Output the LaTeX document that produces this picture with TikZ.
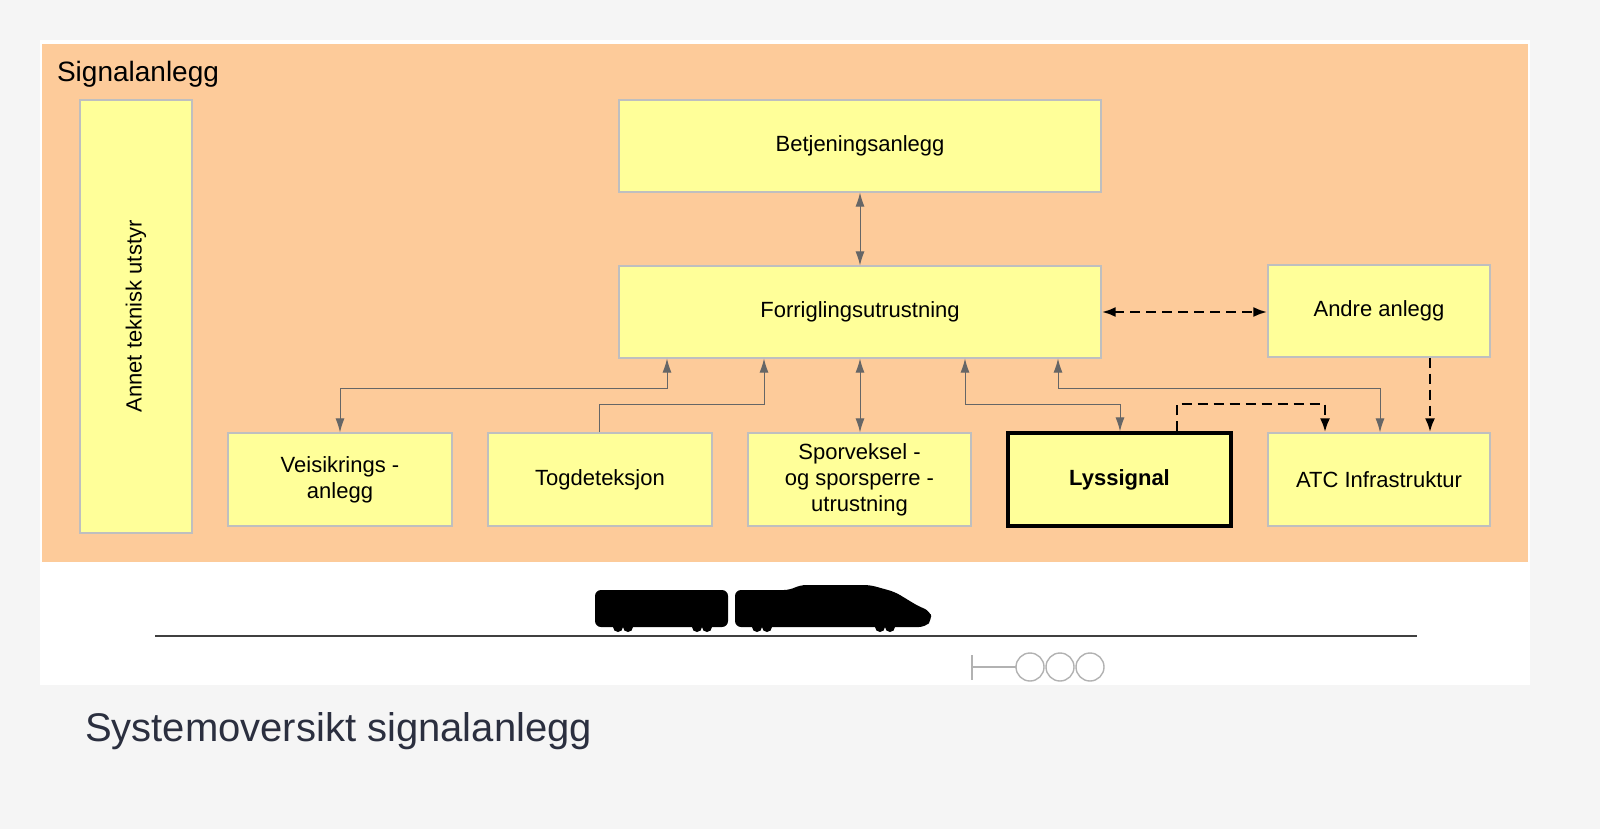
\documentclass[tikz,border=0pt]{standalone}
\usepackage{fontspec}
\setmainfont{Liberation Sans}
\usetikzlibrary{arrows.meta}
\definecolor{org}{HTML}{FDCB9A}
\definecolor{yel}{HTML}{FFFF99}
\definecolor{cap}{HTML}{2B2F3F}
\tikzset{
  box/.style={draw=gray!50, fill=yel, line width=0.6pt, align=center, font=\fontsize{11}{13}\selectfont, inner sep=0pt},
  con/.style={draw=gray!80!black, line width=0.5pt, -{Latex[length=7pt,width=4.5pt]}},
  dcon/.style={draw=black, line width=1.4pt, dash pattern=on 5pt off 3pt, -{Latex[length=7pt,width=5pt]}},
}
\begin{document}
\begin{tikzpicture}[x=0.5pt,y=-0.5pt]
\useasboundingbox (0,0) rectangle (1600,829);
\fill[gray!8] (0,0) rectangle (1600,829);
\fill[white] (40,40) rectangle (1530,685);
\fill[org] (42,44) rectangle (1528,562);
\node[anchor=north west, font=\fontsize{14}{16}\selectfont] (sig) at (50,54) {Signalanlegg};
\newcommand{\bx}[6]{\node[box,#6, minimum width={(#4-#2)*0.5pt}, minimum height={(#5-#3)*0.5pt}] (#1) at ({(#2+#4)/2},{(#3+#5)/2}) {};}
\node[box, minimum width=56pt, minimum height=216.5pt] (annet) at (136,316.5) {};
\node[rotate=90, font=\fontsize{11}{13}\selectfont] (annett) at (136,316.5) {Annet teknisk utstyr};
\node[box, minimum width=241pt, minimum height=46pt] (betj) at (860,146) {Betjeningsanlegg};
\node[box, minimum width=241pt, minimum height=46pt] (forr) at (860,312) {Forriglingsutrustning};
\node[box, minimum width=111pt, minimum height=46pt] (andre) at (1379,311) {Andre anlegg};
\node[box, minimum width=112pt, minimum height=46.5pt] (veis) at (340,479.5) {Veisikrings -\\anlegg};
\node[box, minimum width=112pt, minimum height=46.5pt] (tog) at (600,479.5) {Togdeteksjon};
\node[box, minimum width=111.5pt, minimum height=46.5pt] (spor) at (859.5,479.5) {Sporveksel -\\og sporsperre -\\utrustning};
\node[box, draw=black, line width=1.6pt, minimum width=111.5pt, minimum height=46.5pt, font=\fontsize{11}{13}\selectfont\bfseries] (lys) at (1119.5,479.5) {Lyssignal};
\node[box, minimum width=111pt, minimum height=46.5pt] (atc) at (1379,479.5) {ATC Infrastruktur};
% connectors
\draw[con,<->,>={Latex[length=7pt,width=4.5pt]}] (betj.south) -- (forr.north);
\draw[con,<->,>={Latex[length=7pt,width=4.5pt]}] (forr.south -| 667,0) |- (340,388) -- (veis.north);
\draw[con] (tog.north -| 599,0) |- (764,404) -- (forr.south -| 764,0);
\draw[con,<->,>={Latex[length=7pt,width=4.5pt]}] (forr.south) -- (spor.north -| forr.south);
\draw[con,<->,>={Latex[length=7pt,width=4.5pt]}] (forr.south -| 965,0) |- (1120,404) -- (lys.north -| 1120,0);
\draw[con,<->,>={Latex[length=7pt,width=4.5pt]}] (forr.south -| 1058,0) |- (1380,388) -- (atc.north -| 1380,0);
\draw[dcon] (lys.north -| 1177,0) |- (1325,404) -- (atc.north -| 1325,0);
\draw[dcon] (andre.south -| 1430,0) -- (atc.north -| 1430,0);
\draw[dcon,<->,>={Latex[length=7pt,width=5pt]}] (forr.east) -- (andre.west |- forr.east);
% track
\coordinate (tA) at (155,636); \coordinate (tB) at (1417,636);
\draw[line width=1.2pt, black!75] (tA) -- (tB);
% signal
\draw[gray!60, line width=0.7pt] (972,655) -- (972,680) (972,667) -- (1016,667);
\foreach \cx in {1030,1060,1090} \draw[gray!60, line width=0.7pt] (\cx,667) circle (7pt);
% train
\fill[black, rounded corners=3pt] (595,590) rectangle (728,627);
\fill[black, rounded corners=3pt] (735,627) -- (735,590) -- (790,590) -- (800,585) -- (870,585) -- (895,592) -- (918,606) -- (930,611) -- (932,620) -- (925,627) -- cycle;
\foreach \wx in {618,628,697,707,757,767,880,890} \fill[black] (\wx,627) circle (2.5pt);
% caption
\node[anchor=west, text=cap, font=\fontsize{20}{24}\selectfont] (caption) at (78,731) {Systemoversikt signalanlegg};
\end{tikzpicture}
\end{document}
